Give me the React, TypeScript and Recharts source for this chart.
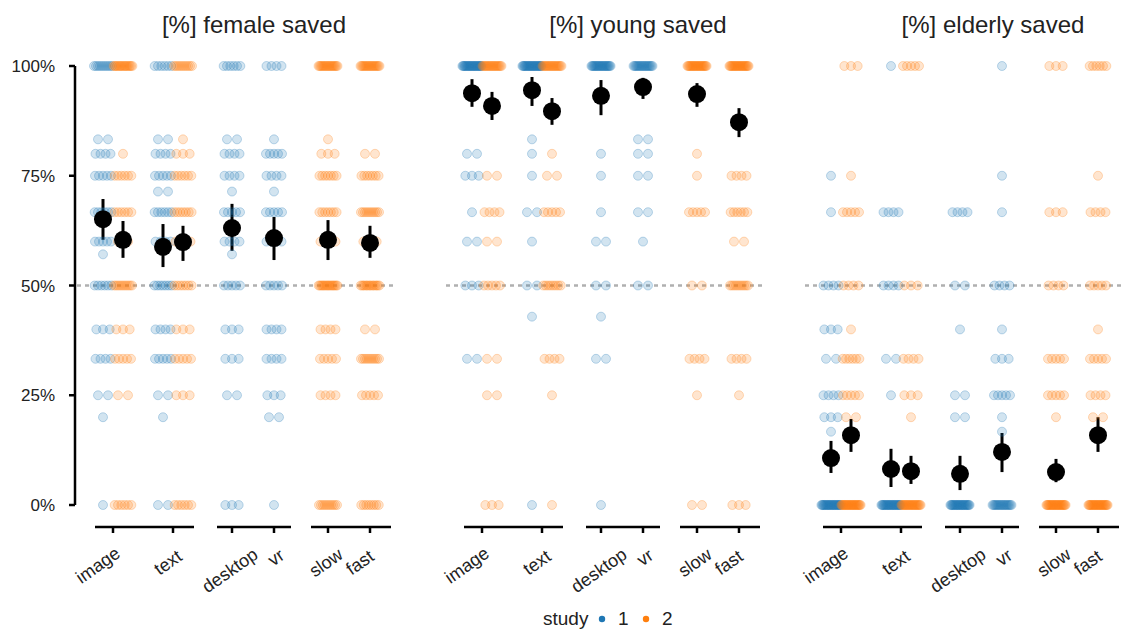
import { ScatterChart, Scatter, XAxis, YAxis, ReferenceLine, ErrorBar } from "recharts";

const categories = ["image", "text", "desktop", "vr", "slow", "fast"];
const panelTitles = ["[%] female saved", "[%] young saved", "[%] elderly saved"];
const legendTitle = "study";
const legendLabels = ["1", "2"];

// 8 sub-series per panel: image(study 1), image(study 2), text(1), text(2), desktop, vr, slow, fast
const subStudy = [1, 2, 1, 2, 1, 1, 2, 2];

// strip rows: [share saved, number of participants]
const fImage1: [number, number][] = [[1, 10], [0.833, 2], [0.8, 4], [0.75, 5], [0.667, 6], [0.6, 5], [0.571, 1], [0.5, 6], [0.4, 3], [0.333, 4], [0.25, 2], [0.2, 1], [0, 1]];
const fImage2: [number, number][] = [[1, 16], [0.8, 1], [0.75, 6], [0.667, 6], [0.6, 2], [0.5, 10], [0.4, 3], [0.333, 5], [0.25, 2], [0, 6]];
const fText1: [number, number][] = [[1, 6], [0.833, 2], [0.8, 4], [0.75, 5], [0.714, 2], [0.667, 6], [0.6, 4], [0.5, 7], [0.4, 4], [0.333, 5], [0.25, 2], [0.2, 1], [0, 2]];
const fText2: [number, number][] = [[1, 10], [0.833, 1], [0.8, 3], [0.75, 6], [0.667, 7], [0.6, 4], [0.5, 7], [0.4, 3], [0.333, 5], [0.25, 3], [0, 6]];
const fDesktop: [number, number][] = [[1, 6], [0.833, 2], [0.8, 4], [0.75, 4], [0.714, 1], [0.667, 5], [0.6, 4], [0.571, 1], [0.5, 5], [0.4, 3], [0.333, 3], [0.25, 2], [0, 3]];
const fVr: [number, number][] = [[1, 4], [0.833, 1], [0.8, 5], [0.75, 4], [0.714, 1], [0.667, 5], [0.6, 4], [0.5, 5], [0.4, 4], [0.333, 4], [0.25, 3], [0.2, 2], [0, 1]];
const fSlow: [number, number][] = [[1, 18], [0.833, 1], [0.8, 3], [0.75, 7], [0.667, 7], [0.6, 4], [0.5, 16], [0.4, 4], [0.333, 5], [0.25, 4], [0, 10]];
const fFast: [number, number][] = [[1, 18], [0.8, 2], [0.75, 7], [0.667, 10], [0.6, 3], [0.5, 14], [0.4, 2], [0.333, 10], [0.25, 5], [0, 8]];

const yImage1: [number, number][] = [[1, 24], [0.8, 2], [0.75, 3], [0.667, 1], [0.6, 2], [0.5, 3], [0.333, 2]];
const yImage2: [number, number][] = [[1, 18], [0.75, 2], [0.667, 4], [0.6, 2], [0.5, 5], [0.333, 2], [0.25, 2], [0, 3]];
const yText1: [number, number][] = [[1, 24], [0.833, 1], [0.8, 1], [0.75, 1], [0.667, 2], [0.6, 1], [0.5, 2], [0.429, 1], [0, 1]];
const yText2: [number, number][] = [[1, 18], [0.8, 1], [0.75, 2], [0.667, 5], [0.5, 8], [0.333, 4], [0.25, 1], [0, 1]];
const yDesktop: [number, number][] = [[1, 22], [0.8, 1], [0.75, 1], [0.667, 1], [0.6, 2], [0.5, 2], [0.429, 1], [0.333, 2], [0, 1]];
const yVr: [number, number][] = [[1, 18], [0.833, 2], [0.8, 2], [0.75, 2], [0.667, 2], [0.6, 1], [0.5, 2]];
const ySlow: [number, number][] = [[1, 22], [0.8, 1], [0.75, 1], [0.667, 5], [0.5, 2], [0.333, 4], [0.25, 1], [0, 2]];
const yFast: [number, number][] = [[1, 22], [0.75, 4], [0.667, 6], [0.6, 2], [0.5, 10], [0.333, 4], [0.25, 1], [0, 3]];

const eImage1: [number, number][] = [[0.75, 1], [0.667, 1], [0.5, 4], [0.4, 3], [0.333, 2], [0.25, 4], [0.2, 3], [0.167, 1], [0, 24]];
const eImage2: [number, number][] = [[1, 3], [0.75, 1], [0.667, 5], [0.5, 4], [0.4, 1], [0.333, 6], [0.25, 5], [0.2, 2], [0, 24]];
const eText1: [number, number][] = [[1, 1], [0.667, 4], [0.5, 4], [0.333, 2], [0.25, 1], [0, 24]];
const eText2: [number, number][] = [[1, 5], [0.5, 3], [0.333, 4], [0.25, 3], [0.2, 1], [0, 22]];
const eDesktop: [number, number][] = [[0.667, 4], [0.5, 2], [0.4, 1], [0.25, 2], [0.2, 2], [0, 24]];
const eVr: [number, number][] = [[1, 1], [0.75, 1], [0.667, 1], [0.5, 4], [0.4, 1], [0.333, 3], [0.25, 5], [0.2, 1], [0.167, 1], [0, 18]];
const eSlow: [number, number][] = [[1, 3], [0.667, 3], [0.5, 4], [0.333, 5], [0.25, 5], [0.2, 1], [0, 24]];
const eFast: [number, number][] = [[1, 6], [0.75, 1], [0.667, 4], [0.5, 5], [0.4, 1], [0.333, 5], [0.25, 4], [0.2, 2], [0, 24]];

// means and interval ends, same sub-series order
const fMean = [0.651, 0.604, 0.588, 0.599, 0.631, 0.608, 0.604, 0.597];
const fLow = [0.604, 0.563, 0.542, 0.556, 0.579, 0.558, 0.558, 0.563];
const fHigh = [0.697, 0.647, 0.64, 0.636, 0.686, 0.656, 0.649, 0.636];
const yMean = [0.938, 0.909, 0.945, 0.897, 0.932, 0.952, 0.936, 0.872];
const yLow = [0.907, 0.877, 0.909, 0.866, 0.888, 0.925, 0.907, 0.838];
const yHigh = [0.97, 0.941, 0.975, 0.927, 0.968, 0.973, 0.961, 0.904];
const eMean = [0.107, 0.159, 0.082, 0.077, 0.071, 0.121, 0.075, 0.159];
const eLow = [0.073, 0.121, 0.041, 0.048, 0.034, 0.075, 0.052, 0.121];
const eHigh = [0.146, 0.196, 0.128, 0.112, 0.112, 0.164, 0.105, 0.2];

const panelStrips = [
  [fImage1, fImage2, fText1, fText2, fDesktop, fVr, fSlow, fFast],
  [yImage1, yImage2, yText1, yText2, yDesktop, yVr, ySlow, yFast],
  [eImage1, eImage2, eText1, eText2, eDesktop, eVr, eSlow, eFast],
];
const panelMeans = [fMean, yMean, eMean];
const panelLows = [fLow, yLow, eLow];
const panelHighs = [fHigh, yHigh, eHigh];

// layout
const BLUE = "#1f77b4";
const ORANGE = "#ff7f0e";
const FONT = "'Liberation Sans', Arial, Helvetica, sans-serif";
const TEXT = "#222";
const PLOT_W = 325;
const Y_MIN = -0.0501;
const SPREAD = 10;
const TICK_POS = [38, 98, 157, 199, 253, 295];
const SUB_POS = [28, 48, 88, 108, 157, 199, 253, 295];
const GROUP_SPANS = [[20, 119], [142, 216], [236, 316]];
const PANEL_LEFT = [75, 444, 803];
const TITLE_X = [254, 638, 993];
const LABEL_NUDGE: Record<string, number> = { image: -15, text: -5, desktop: -2, vr: 2, slow: -2, fast: -10 };

function stripPoints(rows: [number, number][], center: number) {
  const pts: { x: number; y: number }[] = [];
  rows.forEach(([level, n]) => {
    for (let i = 0; i < n; i++) {
      pts.push({ x: center + SPREAD * (((i + 0.5) / n) * 2 - 1), y: level });
    }
  });
  return pts;
}

const stripDot = (color: string) => (p: any) => (
  <circle cx={p.cx} cy={p.cy} r={4.5} fill={color} fillOpacity={0.2} stroke={color} strokeOpacity={0.3} strokeWidth={0.9} />
);

const meanDot = (p: any) => <circle cx={p.cx} cy={p.cy} r={9} fill="#000" />;

const XTick = (props: any) => {
  const { x, y, payload } = props;
  const label = categories[TICK_POS.indexOf(payload.value)] ?? "";
  const fs = 18;
  const a = (35 * Math.PI) / 180;
  const w = label.length * 0.5 * fs;
  const h = 0.72 * fs;
  const cx = x + (LABEL_NUDGE[label] ?? 0);
  const cy = y + 12 + (w * Math.sin(a) + h * Math.cos(a)) / 2;
  return (
    <text x={cx} y={cy} textAnchor="middle" dominantBaseline="central" fontSize={fs} fill={TEXT} fontFamily={FONT} transform={`rotate(-35 ${cx} ${cy})`}>
      {label}
    </text>
  );
};

const Panel = ({ index }: { index: number }) => {
  const strips = panelStrips[index];
  const blue: { x: number; y: number }[] = [];
  const orange: { x: number; y: number }[] = [];
  strips.forEach((rows, s) => {
    const pts = stripPoints(rows, SUB_POS[s]);
    (subStudy[s] === 1 ? blue : orange).push(...pts);
  });
  const means = panelMeans[index].map((m, s) => ({
    x: SUB_POS[s],
    y: m,
    err: [m - panelLows[index][s], panelHighs[index][s] - m],
  }));
  const first = index === 0;
  const yw = first ? 75 : 0;
  const pad = first ? 0 : 30;
  return (
    <div style={{ position: "absolute", left: PANEL_LEFT[index] - yw - pad, top: 0 }}>
      <ScatterChart width={yw + pad + PLOT_W} height={629} margin={{ top: 66, right: 0, bottom: 0, left: pad }}>
        <XAxis
          type="number"
          dataKey="x"
          domain={[0, PLOT_W]}
          ticks={TICK_POS}
          interval={0}
          axisLine={false}
          tickLine={{ stroke: "#000", strokeWidth: 2.5 }}
          tickSize={6}
          height={102}
          tick={(p: any) => <XTick {...p} />}
        />
        <YAxis
          type="number"
          dataKey="y"
          domain={[Y_MIN, 1]}
          ticks={[0, 0.25, 0.5, 0.75, 1]}
          hide={!first}
          width={75}
          axisLine={false}
          tickLine={{ stroke: "#000", strokeWidth: 2.5 }}
          tickSize={6}
          tickMargin={14}
          tickFormatter={(v: number) => `${Math.round(v * 100)}%`}
          tick={{ fontSize: 17, fill: TEXT, fontFamily: FONT }}
        />
        <ReferenceLine
          segment={[{ x: 2, y: 0.5 }, { x: 322, y: 0.5 }]}
          stroke="#b0b0b0"
          strokeWidth={2.5}
          strokeDasharray="4 4"
          ifOverflow="visible"
        />
        {GROUP_SPANS.map(([a, b], i) => (
          <ReferenceLine key={i} segment={[{ x: a, y: Y_MIN }, { x: b, y: Y_MIN }]} stroke="#000" strokeWidth={2.5} ifOverflow="visible" />
        ))}
        {first && (
          <ReferenceLine segment={[{ x: 0, y: 0 }, { x: 0, y: 1 }]} stroke="#000" strokeWidth={2.5} ifOverflow="visible" />
        )}
        <Scatter data={blue} isAnimationActive={false} shape={stripDot(BLUE)} />
        <Scatter data={orange} isAnimationActive={false} shape={stripDot(ORANGE)} />
        <Scatter data={means} isAnimationActive={false} shape={meanDot}>
          <ErrorBar dataKey="err" direction="y" width={0} strokeWidth={3} stroke="#000" isAnimationActive={false} />
        </Scatter>
      </ScatterChart>
    </div>
  );
};

const App = () => {
  return (
    <div style={{ position: "absolute", left: 0, top: 0, width: 1129, height: 629, background: "#fff", fontFamily: FONT }}>
      {[0, 1, 2].map((i) => (
        <Panel key={i} index={i} />
      ))}
      <svg width={1129} height={629} style={{ position: "absolute", left: 0, top: 0, pointerEvents: "none" }}>
        {panelTitles.map((t, i) => (
          <text key={t} x={TITLE_X[i]} y={33} textAnchor="middle" fontSize={24} fill={TEXT} fontFamily={FONT}>
            {t}
          </text>
        ))}
        <text x={543} y={625} fontSize={19} fill={TEXT} fontFamily={FONT}>
          {legendTitle}
        </text>
        <circle cx={602} cy={619} r={3.2} fill={BLUE} />
        <text x={618} y={625} fontSize={19} fill={TEXT} fontFamily={FONT}>
          {legendLabels[0]}
        </text>
        <circle cx={646} cy={619} r={3.2} fill={ORANGE} />
        <text x={662} y={625} fontSize={19} fill={TEXT} fontFamily={FONT}>
          {legendLabels[1]}
        </text>
      </svg>
    </div>
  );
};

export default App;
